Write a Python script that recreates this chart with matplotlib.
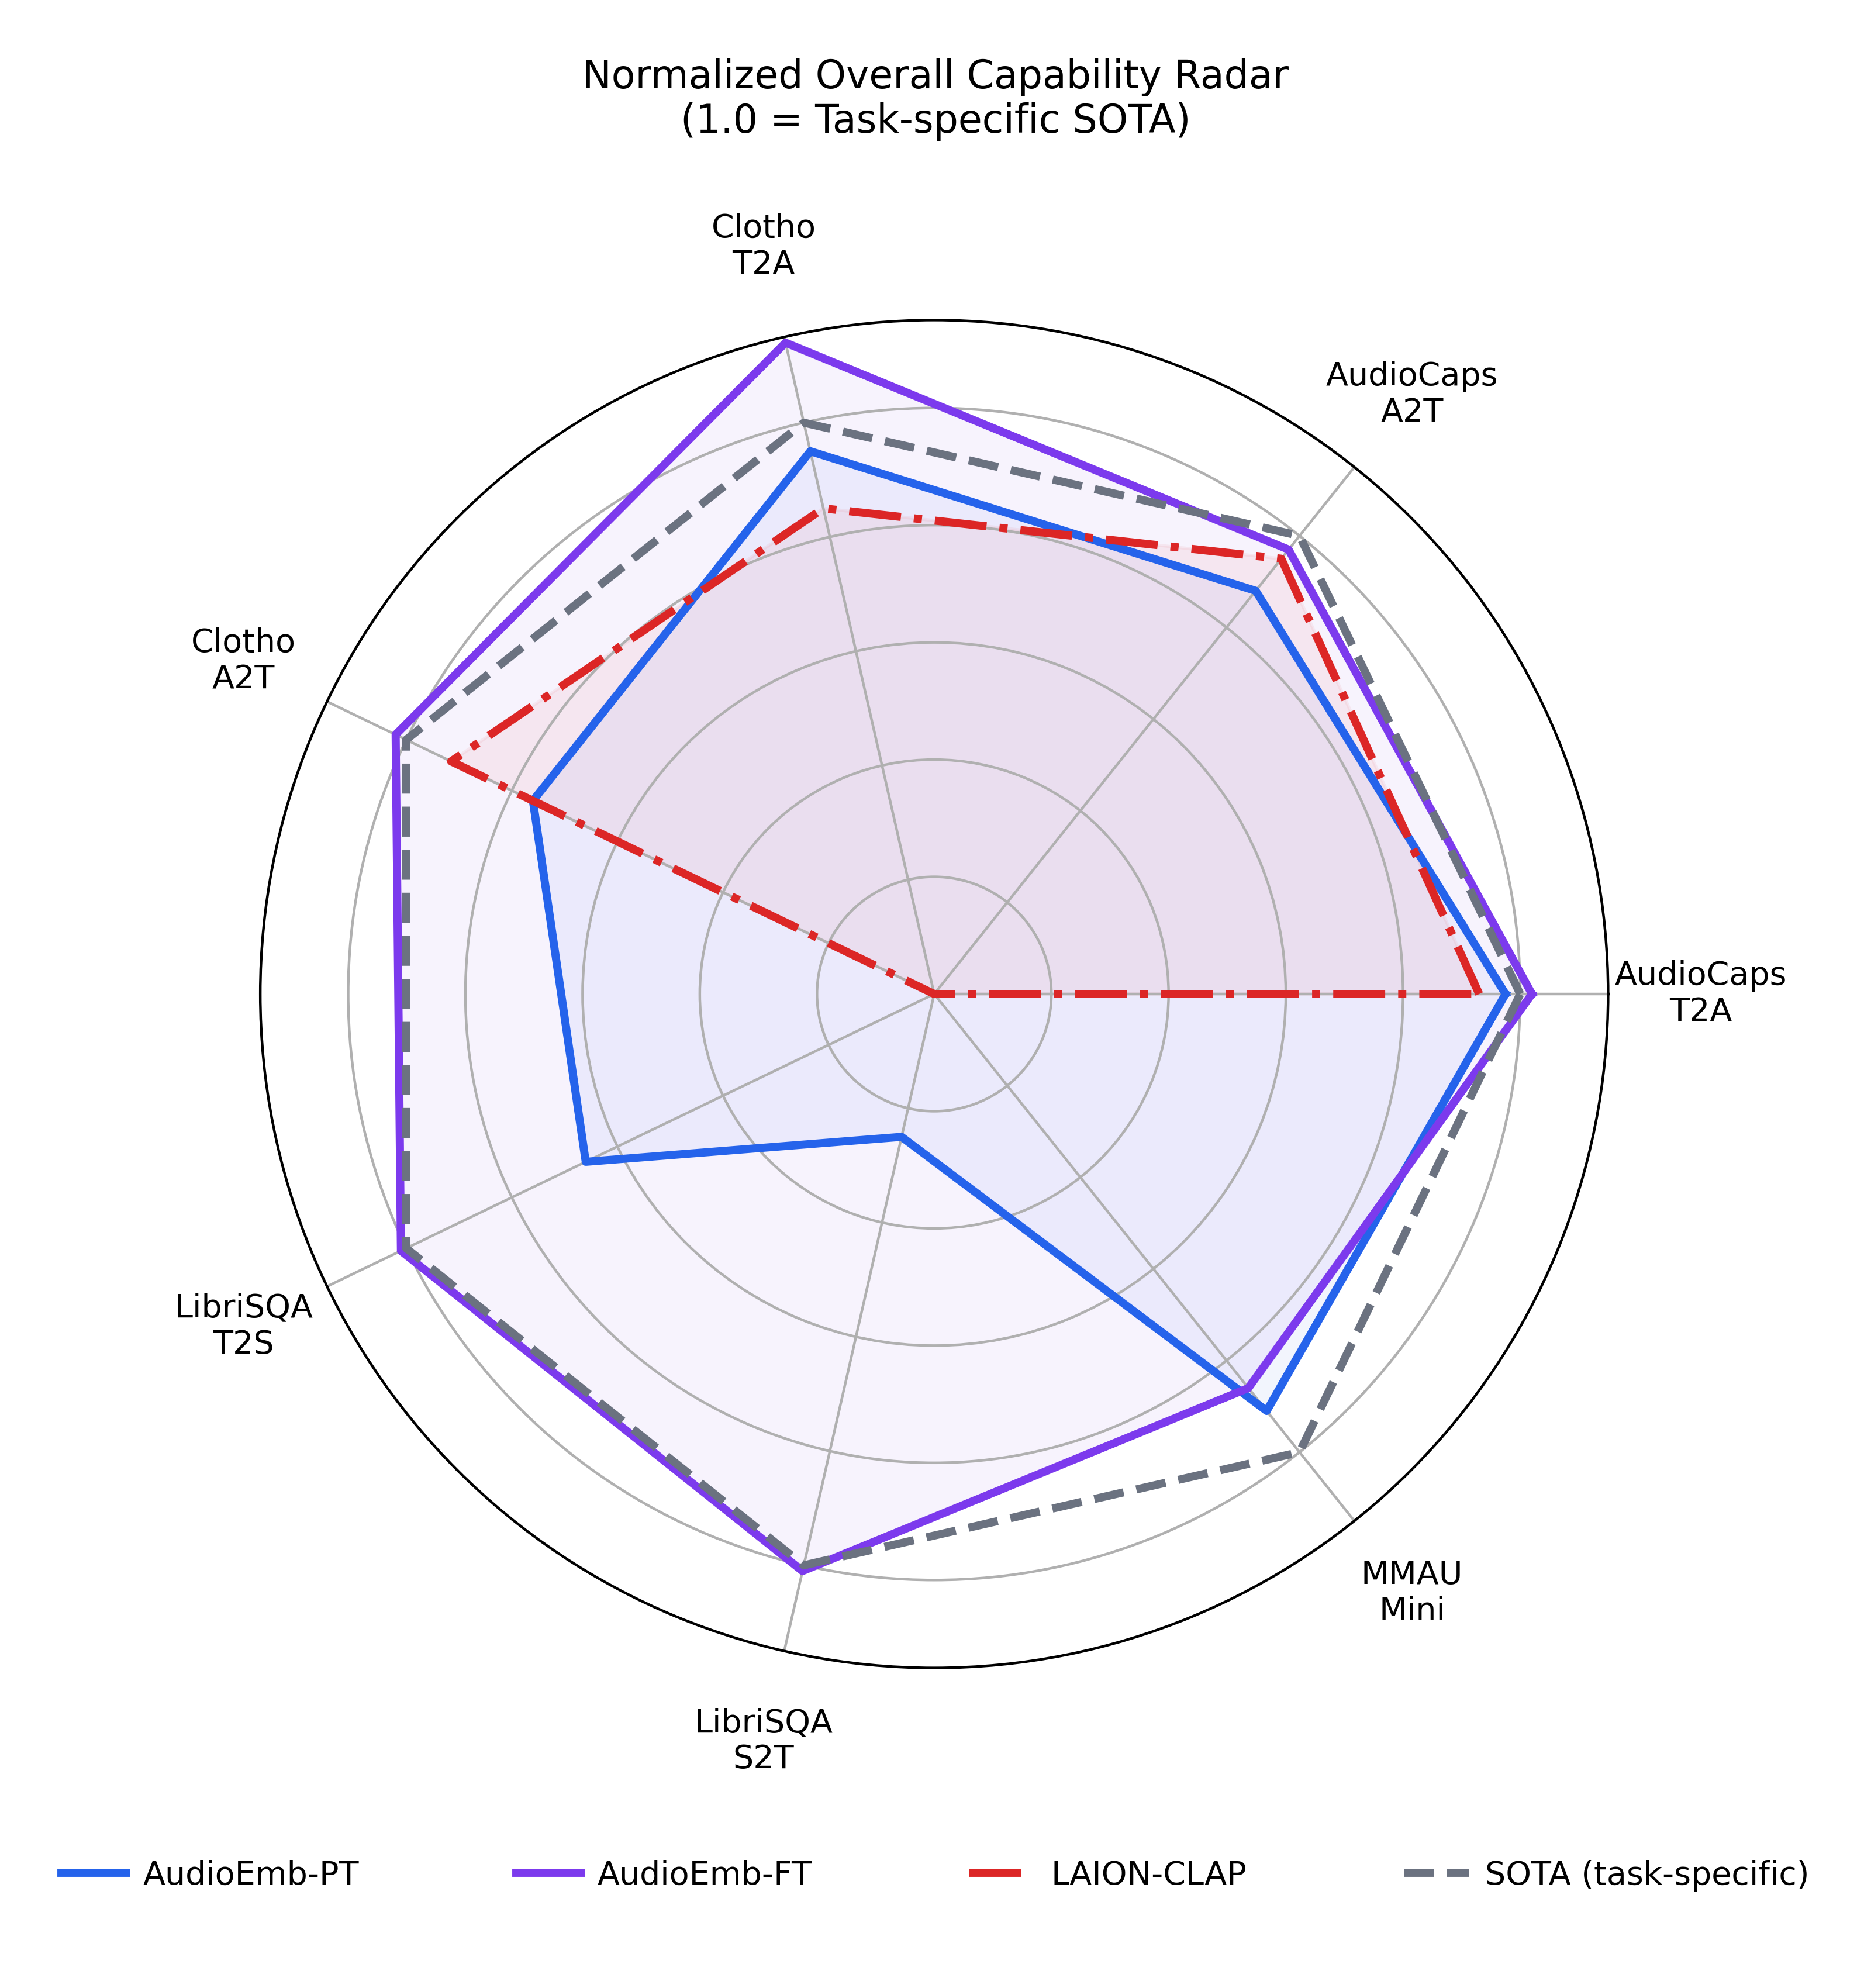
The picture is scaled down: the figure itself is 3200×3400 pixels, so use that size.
import numpy as np
import matplotlib.pyplot as plt

# Task axes (counter-clockwise from 3 o'clock)
categories = ['AudioCaps\nT2A', 'AudioCaps\nA2T', 'Clotho\nT2A', 'Clotho\nA2T',
              'LibriSQA\nT2S', 'LibriSQA\nS2T', 'MMAU\nMini']

# Normalized scores (1.0 = task-specific SOTA)
audioemb_pt = [0.975, 0.88, 0.95, 0.76, 0.66, 0.25, 0.91]
audioemb_ft = [1.02, 0.97, 1.14, 1.02, 1.01, 1.01, 0.86]
laion_clap = [0.93, 0.95, 0.85, 0.915, 0.0, 0.0, 0.0]
sota = [1.0, 1.0, 1.0, 1.0, 1.0, 1.0, 1.0]

series_names = ['AudioEmb-PT', 'AudioEmb-FT', 'LAION-CLAP', 'SOTA (task-specific)']
series_colors = ['#2563eb', '#7c3aed', '#dc2626', '#6b7280']
series_styles = ['-', '-', '-.', '--']
series_fill = [True, True, True, False]

angles = np.linspace(0, 2 * np.pi, len(categories), endpoint=False).tolist()
angles_closed = angles + angles[:1]

fig = plt.figure(figsize=(8, 8.5), dpi=400)
ax = fig.add_axes([0.139, 0.161, 0.7206, 0.678], polar=True)

handles = []
for vals, name, col, ls, fill in zip([audioemb_pt, audioemb_ft, laion_clap, sota],
                                     series_names, series_colors, series_styles, series_fill):
    v = list(vals) + list(vals[:1])
    line, = ax.plot(angles_closed, v, color=col, linestyle=ls, linewidth=2.5, label=name)
    if fill:
        ax.fill(angles_closed, v, color=col, alpha=0.06)
    handles.append(line)

ax.set_ylim(0, 1.15)
ax.set_yticks([0.2, 0.4, 0.6, 0.8, 1.0])
ax.set_yticklabels([])
ax.set_xticks(angles)
ax.set_xticklabels(categories, fontsize=10)
ax.tick_params(axis='x', pad=18)

fig.text(0.5, 0.95, 'Normalized Overall Capability Radar\n(1.0 = Task-specific SOTA)',
         ha='center', va='center', fontsize=12)

fig.legend(handles, series_names, loc='center', bbox_to_anchor=(0.5, 0.0565),
           ncol=4, frameon=False, fontsize=10, columnspacing=4.85,
           handletextpad=0.5)

fig.savefig('out.png', dpi=400)
